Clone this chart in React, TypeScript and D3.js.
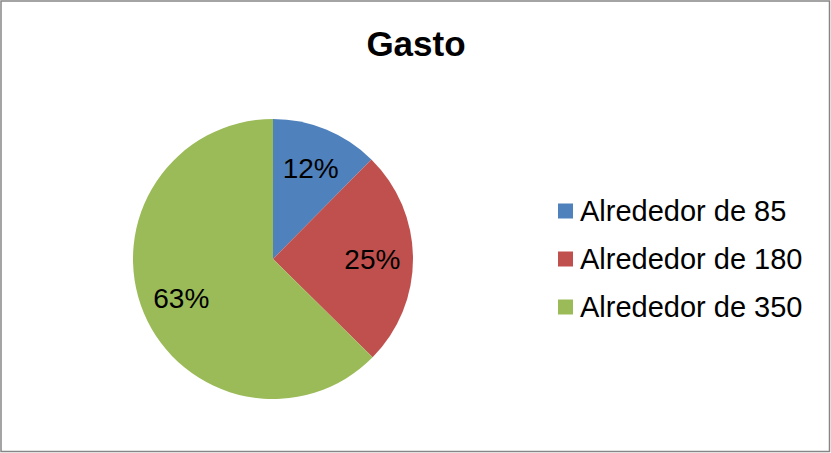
import React from "react";
import * as d3 from "d3";

const categories = ["Alrededor de 85", "Alrededor de 180", "Alrededor de 350"];
const values = [12.4, 25.0, 62.6];
const colors = ["#4F81BD", "#C0504D", "#9BBB59"];
const title = "Gasto";

const W = 831;
const H = 453;
const FONT = "'Liberation Sans', Arial, sans-serif";

export default function App() {
  const cx = 273;
  const cy = 259;
  const r = 140;
  const total = d3.sum(values);
  const pie = d3.pie<number>().sort(null).value((d) => d)(values);
  const arc = d3.arc<d3.PieArcDatum<number>>().innerRadius(0).outerRadius(r);
  const labelArc = d3.arc<d3.PieArcDatum<number>>().innerRadius(r * 0.71).outerRadius(r * 0.71);

  const legendY = d3.scalePoint<string>().domain(categories).range([211, 307]);

  return (
    <svg
      width={W}
      height={H}
      style={{ position: "absolute", left: 0, top: 0, background: "#fff" }}
    >
      <rect x={1} y={1} width={W - 2.5} height={H - 2.5} fill="#fff" stroke="#868686" strokeWidth={1.5} />
      <text x={416} y={56} textAnchor="middle" fontFamily={FONT} fontWeight="bold" fontSize={35} fill="#000">
        {title}
      </text>
      <g transform={`translate(${cx},${cy})`}>
        {pie.map((d, i) => (
          <path key={i} d={arc(d) || ""} fill={colors[i]} />
        ))}
        {pie.map((d, i) => {
          const [x, y] = labelArc.centroid(d);
          return (
            <text
              key={"l" + i}
              x={x}
              y={y}
              dy="0.38em"
              textAnchor="middle"
              fontFamily={FONT}
              fontSize={28}
              fill="#000"
            >
              {Math.round((d.value / total) * 100) + "%"}
            </text>
          );
        })}
      </g>
      {categories.map((c, i) => {
        const y = legendY(c) as number;
        return (
          <g key={c}>
            <rect x={558} y={y - 7.5} width={15} height={15} fill={colors[i]} />
            <text x={580} y={y} dy="0.36em" fontFamily={FONT} fontSize={29} fill="#000">
              {c}
            </text>
          </g>
        );
      })}
    </svg>
  );
}
